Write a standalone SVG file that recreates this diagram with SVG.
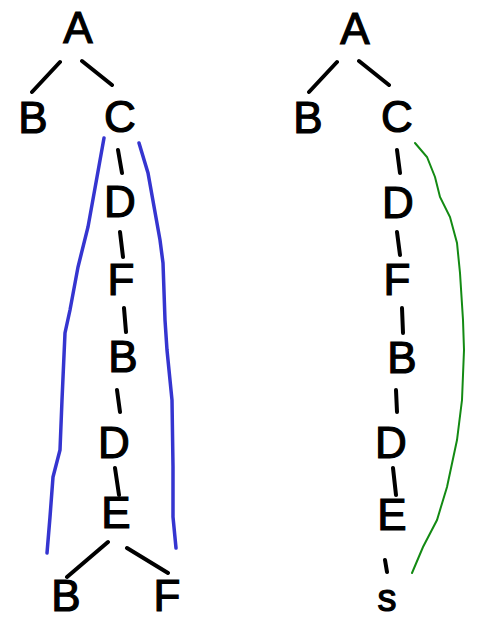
<svg xmlns="http://www.w3.org/2000/svg" width="477" height="622" viewBox="0 0 477 622">
<style>
.n{font-family:"Liberation Sans","DejaVu Sans",sans-serif;font-size:44px;fill:#000;text-anchor:middle;stroke:#000;stroke-width:1.2}
.s{font-size:38px}
.e{stroke:#000;stroke-width:4;stroke-linecap:round;fill:none}
.blue{stroke:#3535d0;stroke-width:3.5;stroke-linecap:round;fill:none}
.green{stroke:#138a13;stroke-width:2;stroke-linecap:round;fill:none}
</style>
<rect width="477" height="622" fill="#fff"/>
<g id="connectors">
<path class="e" d="M60 62L32 92M82 61L112 85M118 150L122 173M120 232L123 257M124 308L126 332M117 390L120 412M115 468L119 495M108 542L67 577M127 548L168 573"/>
<path class="e" d="M337 62L309 92M359 61L389 85M397 150L400 173M397 232L400 255M402 308L403 333M396 390L397 412M393 468L396 495M385 560L387 572"/>
<path class="blue" d="M104 138L97 177L88 227L78 267L70 310L65 333L62 400L60 450L53 477L50 517L47 553"/>
<path class="blue" d="M139 143L148 173L160 240L163 263L165 320L167 350L172 400L173 467L173 517L176 548"/>
<path class="green" d="M415 143L427 157L435 177L440 197L450 217L457 243L460 273L463 320L464 350L462 400L457 440L447 487L437 520L423 547L412 573"/>
</g>
<g id="n1"><text class="n" x="78" y="43">A</text></g>
<g id="n2"><text class="n" x="33" y="133">B</text></g>
<g id="n3"><text class="n" x="120" y="132">C</text></g>
<g id="n4"><text class="n" x="120" y="217">D</text></g>
<g id="n5"><text class="n" x="121" y="295">F</text></g>
<g id="n6"><text class="n" x="123" y="372">B</text></g>
<g id="n7"><text class="n" x="114" y="458">D</text></g>
<g id="n8"><text class="n" x="116" y="528">E</text></g>
<g id="n9"><text class="n" x="66" y="611">B</text></g>
<g id="n10"><text class="n" x="167" y="611">F</text></g>
<g id="m1"><text class="n" x="355" y="44">A</text></g>
<g id="m2"><text class="n" x="308" y="133">B</text></g>
<g id="m3"><text class="n" x="397" y="132">C</text></g>
<g id="m4"><text class="n" x="398" y="218">D</text></g>
<g id="m5"><text class="n" x="397" y="295">F</text></g>
<g id="m6"><text class="n" x="402" y="373">B</text></g>
<g id="m7"><text class="n" x="391" y="458">D</text></g>
<g id="m8"><text class="n" x="392" y="530">E</text></g>
<g id="m9"><text class="n s" x="387" y="611">s</text></g>
</svg>
